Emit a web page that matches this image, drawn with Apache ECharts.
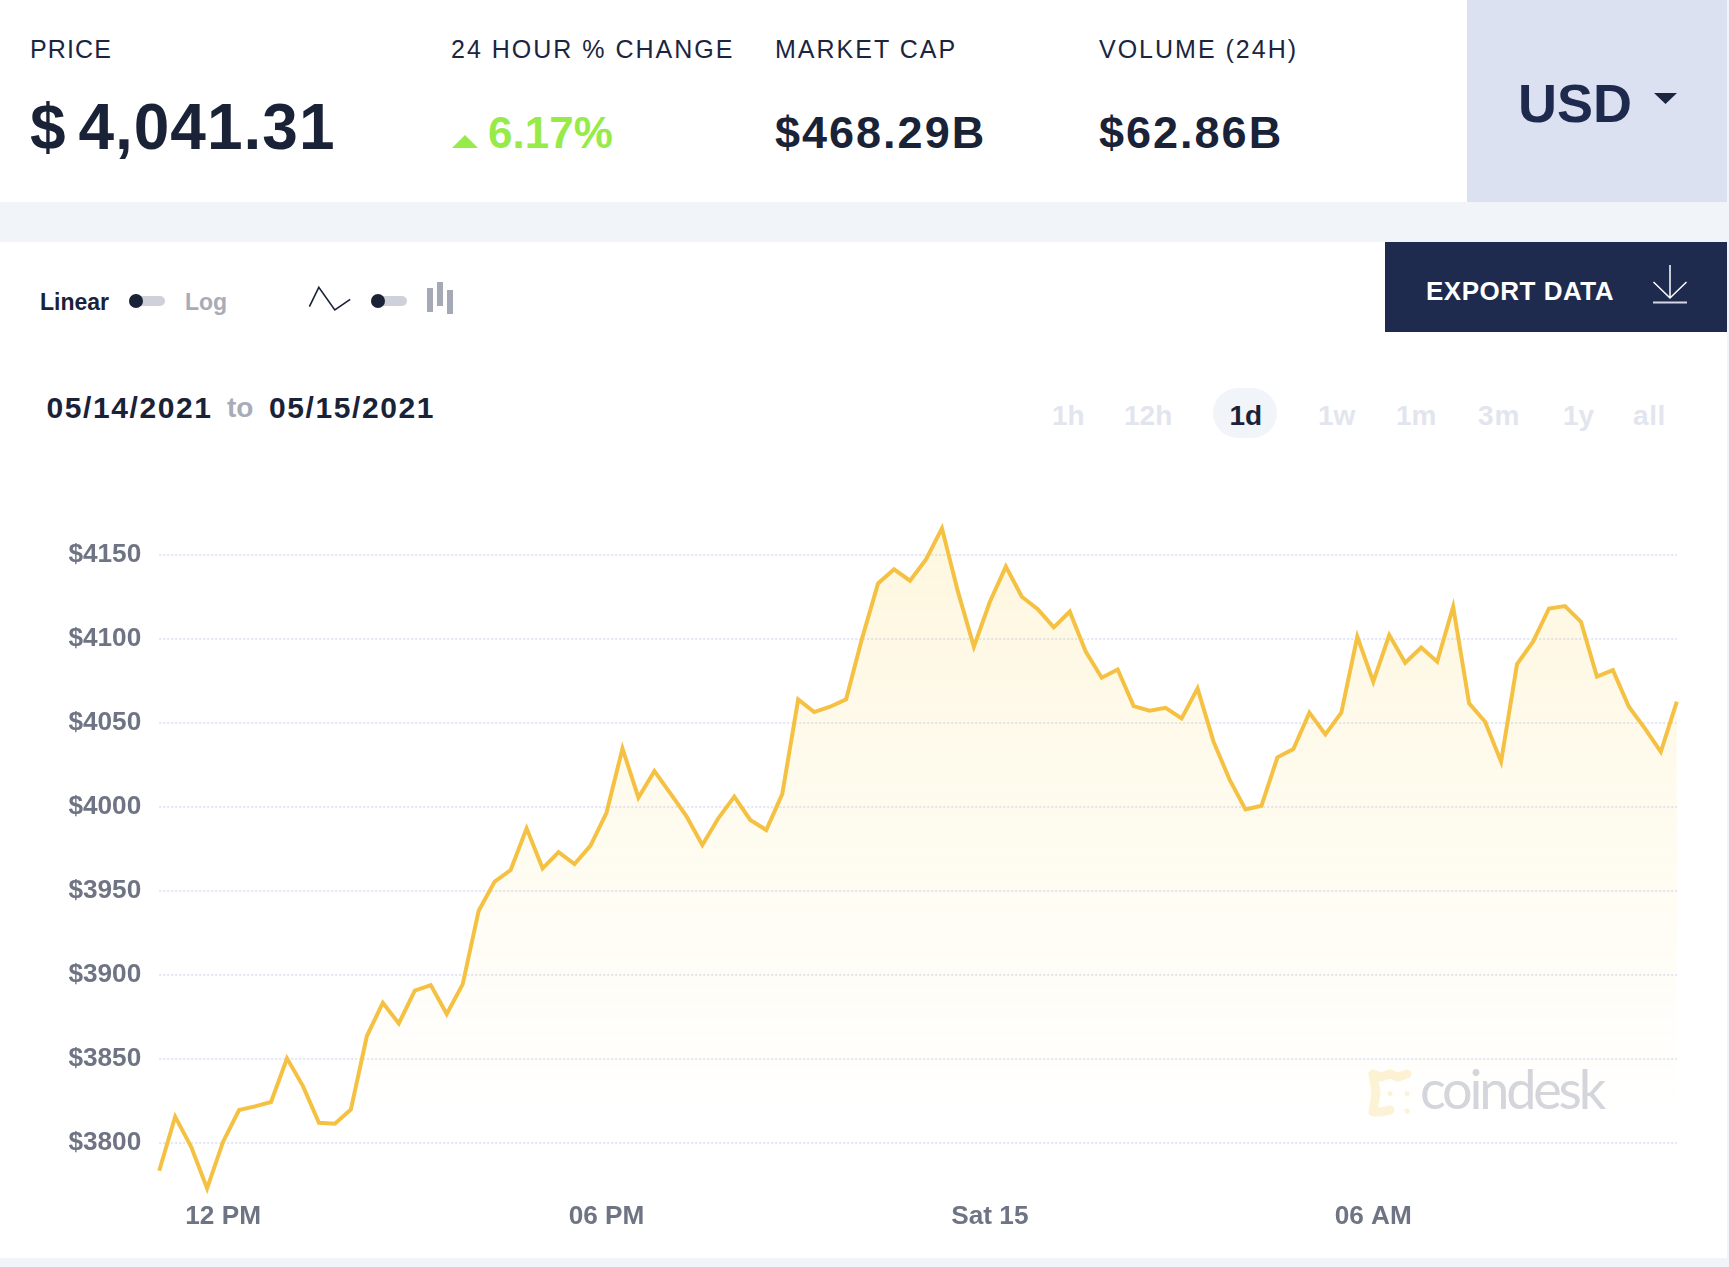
<!DOCTYPE html>
<html>
<head>
<meta charset="UTF-8">
<title>Ethereum price</title>
<style>
    html, body { margin: 0; padding: 0; width: 1729px; height: 1267px; overflow: hidden; background: #f1f4f9; }
    body { font-family: "Liberation Sans", Arial, sans-serif; color: #1a2238; position: relative; }
    .panel { position: absolute; }
    .t { position: absolute; line-height: 1; white-space: nowrap; }
    .head { font-size: 25px; top: 37px; color: #1b2540; letter-spacing: 2px; }
    .big { font-size: 45px; font-weight: bold; top: 110px; letter-spacing: 2px; }
    .ctl { font-size: 23px; font-weight: bold; top: 290.5px; }
    .date { font-size: 30px; font-weight: bold; top: 392.6px; letter-spacing: 1.6px; }
    .range { font-size: 28px; font-weight: bold; top: 402px; color: #e3e5ee; }
    .grey { color: #a9acb8; }
    #chart { position: absolute; left: 0; top: 0; width: 1729px; height: 1267px; }
    svg { position: absolute; left: 0; top: 0; }
</style>
</head>
<body>
    <div class="panel" style="left:0;top:0;width:1727px;height:202px;background:#fff"></div>
    <div class="panel" style="left:1467px;top:0;width:260px;height:202px;background:#dbe1f0"></div>
    <div class="panel" style="left:0;top:242px;width:1727px;height:1016px;background:#fff"></div>
    <div class="panel" style="left:1385px;top:242px;width:342px;height:90px;background:#1e2a4e"></div>
    <div class="panel" style="left:1213px;top:388px;width:64px;height:50px;border-radius:25px;background:#f1f4f9"></div>

    <div class="t head" style="left:30px;letter-spacing:1.1px">PRICE</div>
    <div class="t head" style="left:451px">24 HOUR % CHANGE</div>
    <div class="t head" style="left:775px">MARKET CAP</div>
    <div class="t head" style="left:1099px">VOLUME (24H)</div>

    <div class="t" style="left:30px;top:95px;font-size:64px;font-weight:bold;word-spacing:-7px;letter-spacing:1px">$ 4,041.31</div>
    <div class="t" style="left:488px;top:110.8px;font-size:44px;font-weight:bold;color:#97eb49">6.17%</div>
    <div class="t big" style="left:775px">$468.29B</div>
    <div class="t big" style="left:1099px">$62.86B</div>
    <div class="t" style="left:1518px;top:75.5px;font-size:54px;font-weight:bold;color:#1d2a4d">USD</div>
    <div class="t" style="left:1426px;top:278px;font-size:26px;font-weight:bold;color:#fff;letter-spacing:.5px">EXPORT DATA</div>

    <div class="t ctl" style="left:40px">Linear</div>
    <div class="t ctl grey" style="left:185px">Log</div>

    <div class="t date" style="left:46.5px">05/14/2021</div>
    <div class="t date grey" style="left:227px;font-size:28px;top:394.3px;letter-spacing:0">to</div>
    <div class="t date" style="left:269px">05/15/2021</div>

    <div class="t range" style="left:1052px">1h</div>
    <div class="t range" style="left:1124px">12h</div>
    <div class="t range" style="left:1229.5px;color:#1a2238">1d</div>
    <div class="t range" style="left:1318px">1w</div>
    <div class="t range" style="left:1396px">1m</div>
    <div class="t range" style="left:1478px;letter-spacing:1px">3m</div>
    <div class="t range" style="left:1563px">1y</div>
    <div class="t range" style="left:1633px;letter-spacing:.6px">all</div>

    <svg width="1729" height="1267">
        <!-- arrows on the top bar -->
        <polygon points="452,148 478,148 465,135" fill="#97eb49"/>
        <polygon points="1654,93 1677,93 1665.5,104" fill="#1b2540"/>
        <g fill="none" stroke="#fff">
            <path d="M1670 265V298M1653.5 282L1670 298L1686.5 282" stroke-width="1.5"/>
            <path d="M1653 302.5H1687" stroke-width="2" stroke="#d5d8e2"/>
        </g>
        <!-- linear/log toggle -->
        <rect x="129" y="296" width="36" height="10" rx="5" fill="#cfd1da"/>
        <circle cx="136" cy="301" r="7" fill="#1a2238"/>
        <!-- line/bars toggle -->
        <polyline points="309.4,306.7 318.8,287.3 334.8,310 350.2,299.3" fill="none" stroke="#1a2238" stroke-width="1.6"/>
        <rect x="371" y="296" width="36" height="10" rx="5" fill="#cfd1da"/>
        <circle cx="378" cy="301" r="7" fill="#1a2238"/>
        <rect x="427" y="288" width="6" height="24" fill="#a5a8b5"/>
        <rect x="437" y="282" width="6" height="24" fill="#a5a8b5"/>
        <rect x="447" y="290" width="6" height="24" fill="#a5a8b5"/>
        <!-- watermark logo -->
        <g fill="none" stroke="#fcf3d6" stroke-width="9" stroke-linecap="round" stroke-linejoin="round">
            <polyline points="1373,1074 1381,1077 1390,1074 1398,1077 1407,1074"/>
            <polyline points="1373,1074 1376,1093 1373,1112 1381,1112 1390,1110"/>
        </g>
        <g fill="#fcf3d6">
            <circle cx="1390" cy="1093.5" r="2.5"/>
            <circle cx="1407" cy="1093.5" r="2.5"/>
            <circle cx="1407" cy="1111" r="2.5"/>
        </g>
    </svg>
    <div class="t" style="left:1420px;top:1062px;font-family:Lato,sans-serif;font-weight:400;font-size:54px;letter-spacing:-3.2px;color:#d4d6dd">coindesk</div>

    <div id="chart"></div>

    <script src="https://cdn.jsdelivr.net/npm/echarts@6/dist/echarts.min.js"></script>
    <script type="text/javascript">
        // 15 minute prices
        var prices = [
            3783.3, 3815.5, 3797.6, 3772.8, 3800.6, 3819.4, 3821.6, 3824.2,
            3850.2, 3833.7, 3811.9, 3811.3, 3819.8, 3863.5, 3883.3, 3871.0,
            3890.5, 3893.8, 3876.6, 3894.4, 3938.1, 3955.4, 3962.3, 3987.1,
            3963.3, 3973.0, 3965.9, 3976.8, 3996.4, 4034.7, 4005.4, 4021.2,
            4007.9, 3994.4, 3977.2, 3993.1, 4006.0, 3992.1, 3986.1, 4007.5,
            4063.9, 4056.3, 4059.5, 4063.9, 4100.2, 4132.9, 4141.3, 4134.5,
            4147.2, 4165.7, 4128.0, 4095.2, 4122.0, 4142.9, 4125.0, 4117.5,
            4106.7, 4116.1, 4092.3, 4076.8, 4081.7, 4059.9, 4057.1, 4058.9,
            4052.6, 4070.4, 4038.7, 4016.3, 3998.4, 4000.6, 4029.4, 4034.3,
            4056.0, 4043.0, 4056.0, 4101.2, 4074.4, 4102.2, 4085.7, 4094.8,
            4086.3, 4119.0, 4061.5, 4050.6, 4026.8, 4084.9, 4098.2, 4118.0,
            4119.4, 4110.1, 4077.4, 4081.3, 4059.5, 4046.6, 4032.7, 4062.5
        ];
        var tickIndex = [4, 28, 52, 76];
        var tickLabels = ['12 PM', '06 PM', 'Sat 15', '06 AM'];

        var labelStyle = {
            color: '#6f7484',
            fontFamily: 'Liberation Sans',
            fontWeight: 'bold',
            fontSize: 26.2
        };

        var chart = echarts.init(document.getElementById('chart'));
        var option = {
            animation: false,
            backgroundColor: 'transparent',
            grid: { left: 159.2, right: 52.2, top: 470.7, bottom: 40.3 },
            xAxis: {
                type: 'category',
                boundaryGap: false,
                data: prices.map(function (p, i) { return i; }),
                axisLine: { show: false },
                axisTick: { show: false },
                splitLine: { show: false },
                axisLabel: Object.assign({}, labelStyle, {
                    margin: -23,
                    interval: function (index) { return tickIndex.indexOf(index) >= 0; },
                    formatter: function (value) { return tickLabels[tickIndex.indexOf(+value)]; }
                })
            },
            yAxis: {
                type: 'value',
                min: 3750,
                max: 4200,
                interval: 50,
                axisLine: { show: false },
                axisTick: { show: false },
                splitLine: {
                    showMinLine: false,
                    showMaxLine: false,
                    lineStyle: { color: '#e1e5f7', width: 2, type: [2, 2] }
                },
                axisLabel: Object.assign({}, labelStyle, {
                    margin: 18,
                    showMinLabel: false,
                    showMaxLabel: false,
                    formatter: function (value) { return '$' + value; }
                })
            },
            series: [{
                type: 'line',
                data: prices,
                symbol: 'none',
                smooth: false,
                lineStyle: { color: '#f5c142', width: 4, join: 'miter', cap: 'butt' },
                itemStyle: { color: '#f5c142' },
                areaStyle: {
                    color: new echarts.graphic.LinearGradient(0, 0, 0, 1, [
                        { offset: 0, color: 'rgba(247,200,40,0.21)' },
                        { offset: 0.85, color: 'rgba(247,200,40,0)' }
                    ])
                }
            }]
        };
        chart.setOption(option);
    </script>
</body>
</html>
